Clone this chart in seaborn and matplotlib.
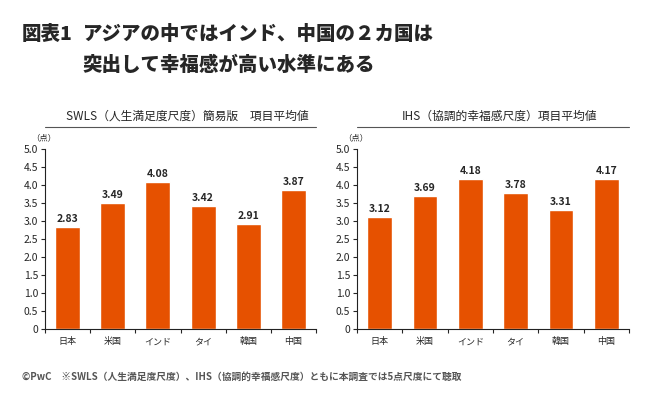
import numpy as np
import pandas as pd
import seaborn as sns
import matplotlib.pyplot as plt
from matplotlib.lines import Line2D

sns.set_theme(style='ticks')
plt.rcParams['font.family'] = ['Noto Sans CJK JP', 'DejaVu Sans']

countries = ['日本', '米国', 'インド', 'タイ', '韓国', '中国']
swls = [2.83, 3.49, 4.08, 3.42, 2.91, 3.87]
ihs = [3.12, 3.69, 4.18, 3.78, 3.31, 4.17]
subtitles = ['SWLS（人生満足度尺度）簡易版　項目平均値', 'IHS（協調的幸福感尺度）項目平均値']
bar_color = '#E65100'

fig = plt.figure(figsize=(6.5, 4.05), dpi=100)

fig.text(22/650, 1 - 34/405, '図表1', fontsize=14, fontweight='black', va='center', ha='left')
fig.text(83/650, 1 - 34/405, 'アジアの中ではインド、中国の２カ国は', fontsize=14, fontweight='black', va='center', ha='left')
fig.text(83/650, 1 - 65/405, '突出して幸福感が高い水準にある', fontsize=14, fontweight='black', va='center', ha='left')

panels = [(45, 316, swls, subtitles[0]), (357, 629, ihs, subtitles[1])]
for x0, x1, vals, sub in panels:
    ax = fig.add_axes([x0/650, 1 - 329/405, (x1 - x0)/650, 180/405])
    df = pd.DataFrame({'country': countries, 'value': vals})
    sns.barplot(data=df, x='country', y='value', color=bar_color, saturation=1, width=0.55, ax=ax)
    for i, v in enumerate(vals):
        ax.text(i, v + 0.08, f'{v:.2f}', ha='center', va='bottom', fontsize=7.5, fontweight='bold')
    ax.set_xlim(-0.5, 5.5)
    ax.set_ylim(0, 5.0)
    ax.set_yticks(np.arange(0, 5.01, 0.5))
    ax.set_yticklabels(['0'] + [f'{t:.1f}' for t in np.arange(0.5, 5.01, 0.5)], fontsize=7.5)
    ax.set_xticks(np.arange(-0.5, 6, 1))
    ax.set_xticklabels([])
    ax.set_xticks(range(6), minor=True)
    ax.set_xticklabels(countries, minor=True, fontsize=6.5)
    ax.tick_params(axis='x', which='minor', length=0, pad=6)
    ax.tick_params(axis='x', which='major', length=3, width=0.8, direction='out')
    ax.tick_params(axis='y', length=3, width=0.8, pad=2)
    ax.set_xlabel('')
    ax.set_ylabel('')
    sns.despine(ax=ax)
    for s in ['left', 'bottom']:
        ax.spines[s].set_color('#222222')
        ax.spines[s].set_linewidth(0.8)
    ax.text(-0.005, 1.035, '（点）', transform=ax.transAxes, fontsize=6, ha='center', va='bottom')
    fig.text((x0 + x1)/2/650 + 0.01, 1 - 116/405, sub, fontsize=8.5, ha='center', va='center')
    fig.add_artist(Line2D([x0/650, x1/650], [1 - 127/405, 1 - 127/405], color='#555555', lw=0.8))

fig.text(22/650, 1 - 377/405, '©PwC　※SWLS（人生満足度尺度）、IHS（協調的幸福感尺度）ともに本調査では5点尺度にて聴取',
         fontsize=7, color='#555555', ha='left', va='center', fontweight='bold')

fig.savefig('out.png', dpi=100)
